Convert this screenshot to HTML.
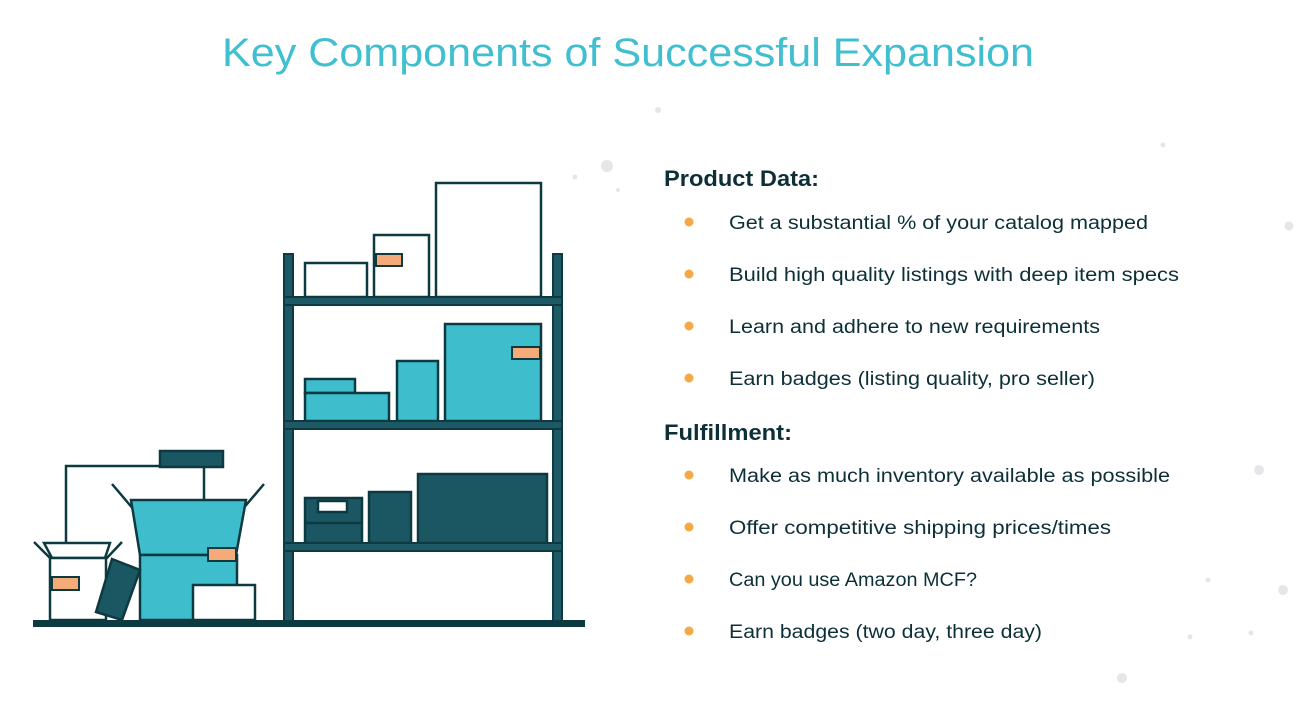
<!DOCTYPE html>
<html><head><meta charset="utf-8"><style>
html,body{margin:0;padding:0;background:#fff;}
svg{display:block}
text{font-family:"Liberation Sans",sans-serif;}
</style></head><body>
<svg width="1302" height="727" viewBox="0 0 1302 727" xmlns="http://www.w3.org/2000/svg">
<text x="628" y="66" text-anchor="middle" font-size="40" fill="#3fbfd0" textLength="812" lengthAdjust="spacingAndGlyphs">Key Components of Successful Expansion</text>
<g fill="#e6e6ea">
<circle cx="658" cy="110" r="3"/><circle cx="607" cy="166" r="6"/><circle cx="575" cy="177" r="2.5"/><circle cx="1163" cy="145" r="2.5"/><circle cx="1289" cy="226" r="4.5"/><circle cx="1259" cy="470" r="5"/><circle cx="1283" cy="590" r="5"/><circle cx="1208" cy="580" r="2.5"/><circle cx="1190" cy="637" r="2.5"/><circle cx="1251" cy="633" r="2.5"/><circle cx="1122" cy="678" r="5"/><circle cx="618" cy="190" r="2"/>
</g>
<g stroke="#0d3a40" stroke-width="2.5">
<!-- top shelf boxes -->
<rect x="305" y="263" width="62" height="34" fill="#fff"/>
<rect x="374" y="235" width="55" height="62" fill="#fff"/>
<rect x="436" y="183" width="105" height="114" fill="#fff"/>
<!-- middle -->
<rect x="305" y="379" width="50" height="14" fill="#3ebdcd"/>
<rect x="305" y="393" width="84" height="28" fill="#3ebdcd"/>
<rect x="397" y="361" width="41" height="60" fill="#3ebdcd"/>
<rect x="445" y="324" width="96" height="97" fill="#3ebdcd"/>
<!-- bottom -->
<rect x="305" y="498" width="57" height="45" fill="#1b5663"/>
<line x1="305" y1="523" x2="362" y2="523"/>
<rect x="318" y="501" width="29" height="11" fill="#fff"/>
<rect x="369" y="492" width="42" height="51" fill="#1b5663"/>
<rect x="418" y="474" width="129" height="69" fill="#1b5663"/>
</g>
<g fill="#f5ab79" stroke="#0d3a40" stroke-width="2">
<rect x="376" y="254" width="26" height="12"/>
<rect x="512" y="347" width="28" height="12"/>
</g>
<!-- shelf frame -->
<g fill="#1d5a66" stroke="#0d3a40" stroke-width="2">
<rect x="284" y="254" width="9" height="371"/>
<rect x="553" y="254" width="9" height="371"/>
<rect x="284" y="297" width="278" height="8"/>
<rect x="284" y="421" width="278" height="8"/>
<rect x="284" y="543" width="278" height="8"/>
</g>
<!-- left group -->
<g stroke="#0d3a40" stroke-width="2.5" fill="none">
<polyline points="66,560 66,466 204,466 204,500"/>
<rect x="160" y="451" width="63" height="16" fill="#1b5663"/>
<line x1="112" y1="484" x2="140" y2="517"/>
<line x1="264" y1="484" x2="236" y2="517"/>
<polygon points="131,500 246,500 236,555 140,555" fill="#3ebdcd"/>
<rect x="140" y="555" width="97" height="65" fill="#3ebdcd"/>
<rect x="193" y="585" width="62" height="35" fill="#fff"/>
<line x1="34" y1="542" x2="52" y2="560"/>
<line x1="122" y1="542" x2="105" y2="560"/>
<polygon points="44,543 110,543 105,558 52,558" fill="#fff"/>
<rect x="50" y="558" width="56" height="62" fill="#fff"/>
<polygon points="112,559 140,570 122,620 96,612" fill="#1b5663"/>
</g>
<g fill="#f5ab79" stroke="#0d3a40" stroke-width="2">
<rect x="208" y="548" width="28" height="13"/>
<rect x="52" y="577" width="27" height="13"/>
</g>
<rect x="33" y="620" width="552" height="7" fill="#0d3a40"/>
<!-- text -->
<g fill="#0d3038">
<text x="664" y="186" font-size="22" font-weight="bold" textLength="155" lengthAdjust="spacingAndGlyphs">Product Data:</text>
<text x="664" y="440" font-size="22" font-weight="bold" textLength="128" lengthAdjust="spacingAndGlyphs">Fulfillment:</text>
<g font-size="19">
<text x="729" y="229" textLength="419" lengthAdjust="spacingAndGlyphs">Get a substantial % of your catalog mapped</text>
<text x="729" y="281" textLength="450" lengthAdjust="spacingAndGlyphs">Build high quality listings with deep item specs</text>
<text x="729" y="333" textLength="371" lengthAdjust="spacingAndGlyphs">Learn and adhere to new requirements</text>
<text x="729" y="385" textLength="366" lengthAdjust="spacingAndGlyphs">Earn badges (listing quality, pro seller)</text>
<text x="729" y="482" textLength="441" lengthAdjust="spacingAndGlyphs">Make as much inventory available as possible</text>
<text x="729" y="534" textLength="382" lengthAdjust="spacingAndGlyphs">Offer competitive shipping prices/times</text>
<text x="729" y="586" textLength="248" lengthAdjust="spacingAndGlyphs">Can you use Amazon MCF?</text>
<text x="729" y="638" textLength="313" lengthAdjust="spacingAndGlyphs">Earn badges (two day, three day)</text>
</g>
</g>
<g fill="#f5a945">
<circle cx="689" cy="222" r="4.5"/><circle cx="689" cy="274" r="4.5"/><circle cx="689" cy="326" r="4.5"/><circle cx="689" cy="378" r="4.5"/>
<circle cx="689" cy="475" r="4.5"/><circle cx="689" cy="527" r="4.5"/><circle cx="689" cy="579" r="4.5"/><circle cx="689" cy="631" r="4.5"/>
</g>
</svg>
</body></html>
